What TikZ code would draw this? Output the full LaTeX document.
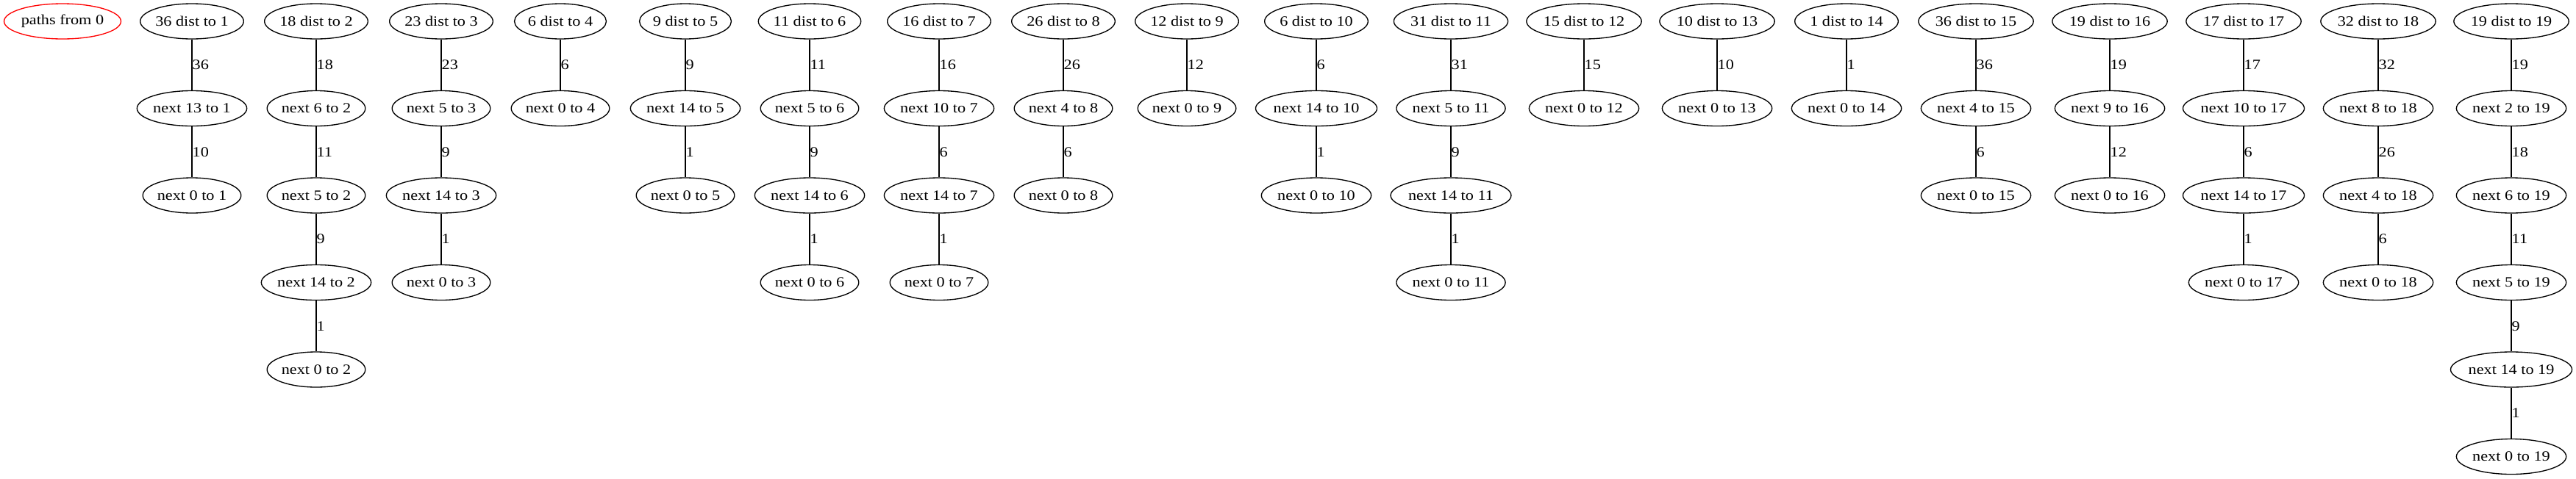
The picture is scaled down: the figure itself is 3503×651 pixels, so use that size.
\documentclass[tikz,border=0pt]{standalone}
\usepackage{fontspec}
\setmainfont{Liberation Serif}
\newfontfamily\gvfont{Liberation Serif}[FakeStretch=1.15]
\usetikzlibrary{shapes.geometric}
\tikzset{
	pnode/.style={ellipse,draw,inner xsep=0pt,inner ysep=4pt,minimum height=36pt,font=\gvfont\fontsize{14.5}{16}\selectfont},
	rootnode/.style={pnode,draw=red},
	wt/.style={right,inner sep=0pt,font=\gvfont\fontsize{14.5}{16}\selectfont}
}
\begin{document}
\begin{tikzpicture}[x=0.75pt,y=-0.75pt,line width=1pt]
	\useasboundingbox (0,0) rectangle (3503,651);
	\node[rootnode] (root) at (85,29) {paths from 0};
	% to 1
	\node[pnode] (d1) at (261,29) {36 dist to 1};
	\node[pnode] (n1a) at (261,147.5) {next 13 to 1};
	\node[pnode] (n1b) at (261,266) {next 0 to 1};
	\draw (d1) -- node[wt] {36} (n1a) -- node[wt] {10} (n1b);
	% to 2
	\node[pnode] (d2) at (430,29) {18 dist to 2};
	\node[pnode] (n2a) at (430,147.5) {next 6 to 2};
	\node[pnode] (n2b) at (430,266) {next 5 to 2};
	\node[pnode] (n2c) at (430,384.5) {next 14 to 2};
	\node[pnode] (n2d) at (430,503) {next 0 to 2};
	\draw (d2) -- node[wt] {18} (n2a) -- node[wt] {11} (n2b) -- node[wt] {9} (n2c) -- node[wt] {1} (n2d);
	% to 3
	\node[pnode] (d3) at (600,29) {23 dist to 3};
	\node[pnode] (n3a) at (600,147.5) {next 5 to 3};
	\node[pnode] (n3b) at (600,266) {next 14 to 3};
	\node[pnode] (n3c) at (600,384.5) {next 0 to 3};
	\draw (d3) -- node[wt] {23} (n3a) -- node[wt] {9} (n3b) -- node[wt] {1} (n3c);
	% to 4
	\node[pnode] (d4) at (762,29) {6 dist to 4};
	\node[pnode] (n4a) at (762,147.5) {next 0 to 4};
	\draw (d4) -- node[wt] {6} (n4a);
	% to 5
	\node[pnode] (d5) at (932,29) {9 dist to 5};
	\node[pnode] (n5a) at (932,147.5) {next 14 to 5};
	\node[pnode] (n5b) at (932,266) {next 0 to 5};
	\draw (d5) -- node[wt] {9} (n5a) -- node[wt] {1} (n5b);
	% to 6
	\node[pnode] (d6) at (1101,29) {11 dist to 6};
	\node[pnode] (n6a) at (1101,147.5) {next 5 to 6};
	\node[pnode] (n6b) at (1101,266) {next 14 to 6};
	\node[pnode] (n6c) at (1101,384.5) {next 0 to 6};
	\draw (d6) -- node[wt] {11} (n6a) -- node[wt] {9} (n6b) -- node[wt] {1} (n6c);
	% to 7
	\node[pnode] (d7) at (1277,29) {16 dist to 7};
	\node[pnode] (n7a) at (1277,147.5) {next 10 to 7};
	\node[pnode] (n7b) at (1277,266) {next 14 to 7};
	\node[pnode] (n7c) at (1277,384.5) {next 0 to 7};
	\draw (d7) -- node[wt] {16} (n7a) -- node[wt] {6} (n7b) -- node[wt] {1} (n7c);
	% to 8
	\node[pnode] (d8) at (1446,29) {26 dist to 8};
	\node[pnode] (n8a) at (1446,147.5) {next 4 to 8};
	\node[pnode] (n8b) at (1446,266) {next 0 to 8};
	\draw (d8) -- node[wt] {26} (n8a) -- node[wt] {6} (n8b);
	% to 9
	\node[pnode] (d9) at (1614,29) {12 dist to 9};
	\node[pnode] (n9a) at (1614,147.5) {next 0 to 9};
	\draw (d9) -- node[wt] {12} (n9a);
	% to 10
	\node[pnode] (d10) at (1790,29) {6 dist to 10};
	\node[pnode] (n10a) at (1790,147.5) {next 14 to 10};
	\node[pnode] (n10b) at (1790,266) {next 0 to 10};
	\draw (d10) -- node[wt] {6} (n10a) -- node[wt] {1} (n10b);
	% to 11
	\node[pnode] (d11) at (1973,29) {31 dist to 11};
	\node[pnode] (n11a) at (1973,147.5) {next 5 to 11};
	\node[pnode] (n11b) at (1973,266) {next 14 to 11};
	\node[pnode] (n11c) at (1973,384.5) {next 0 to 11};
	\draw (d11) -- node[wt] {31} (n11a) -- node[wt] {9} (n11b) -- node[wt] {1} (n11c);
	% to 12
	\node[pnode] (d12) at (2154,29) {15 dist to 12};
	\node[pnode] (n12a) at (2154,147.5) {next 0 to 12};
	\draw (d12) -- node[wt] {15} (n12a);
	% to 13
	\node[pnode] (d13) at (2335,29) {10 dist to 13};
	\node[pnode] (n13a) at (2335,147.5) {next 0 to 13};
	\draw (d13) -- node[wt] {10} (n13a);
	% to 14
	\node[pnode] (d14) at (2511,29) {1 dist to 14};
	\node[pnode] (n14a) at (2511,147.5) {next 0 to 14};
	\draw (d14) -- node[wt] {1} (n14a);
	% to 15
	\node[pnode] (d15) at (2687,29) {36 dist to 15};
	\node[pnode] (n15a) at (2687,147.5) {next 4 to 15};
	\node[pnode] (n15b) at (2687,266) {next 0 to 15};
	\draw (d15) -- node[wt] {36} (n15a) -- node[wt] {6} (n15b);
	% to 16
	\node[pnode] (d16) at (2869,29) {19 dist to 16};
	\node[pnode] (n16a) at (2869,147.5) {next 9 to 16};
	\node[pnode] (n16b) at (2869,266) {next 0 to 16};
	\draw (d16) -- node[wt] {19} (n16a) -- node[wt] {12} (n16b);
	% to 17
	\node[pnode] (d17) at (3051,29) {17 dist to 17};
	\node[pnode] (n17a) at (3051,147.5) {next 10 to 17};
	\node[pnode] (n17b) at (3051,266) {next 14 to 17};
	\node[pnode] (n17c) at (3051,384.5) {next 0 to 17};
	\draw (d17) -- node[wt] {17} (n17a) -- node[wt] {6} (n17b) -- node[wt] {1} (n17c);
	% to 18
	\node[pnode] (d18) at (3234,29) {32 dist to 18};
	\node[pnode] (n18a) at (3234,147.5) {next 8 to 18};
	\node[pnode] (n18b) at (3234,266) {next 4 to 18};
	\node[pnode] (n18c) at (3234,384.5) {next 0 to 18};
	\draw (d18) -- node[wt] {32} (n18a) -- node[wt] {26} (n18b) -- node[wt] {6} (n18c);
	% to 19
	\node[pnode] (d19) at (3415,29) {19 dist to 19};
	\node[pnode] (n19a) at (3415,147.5) {next 2 to 19};
	\node[pnode] (n19b) at (3415,266) {next 6 to 19};
	\node[pnode] (n19c) at (3415,384.5) {next 5 to 19};
	\node[pnode] (n19d) at (3415,503) {next 14 to 19};
	\node[pnode] (n19e) at (3415,621.5) {next 0 to 19};
	\draw (d19) -- node[wt] {19} (n19a) -- node[wt] {18} (n19b) -- node[wt] {11} (n19c) -- node[wt] {9} (n19d) -- node[wt] {1} (n19e);
\end{tikzpicture}
\end{document}
